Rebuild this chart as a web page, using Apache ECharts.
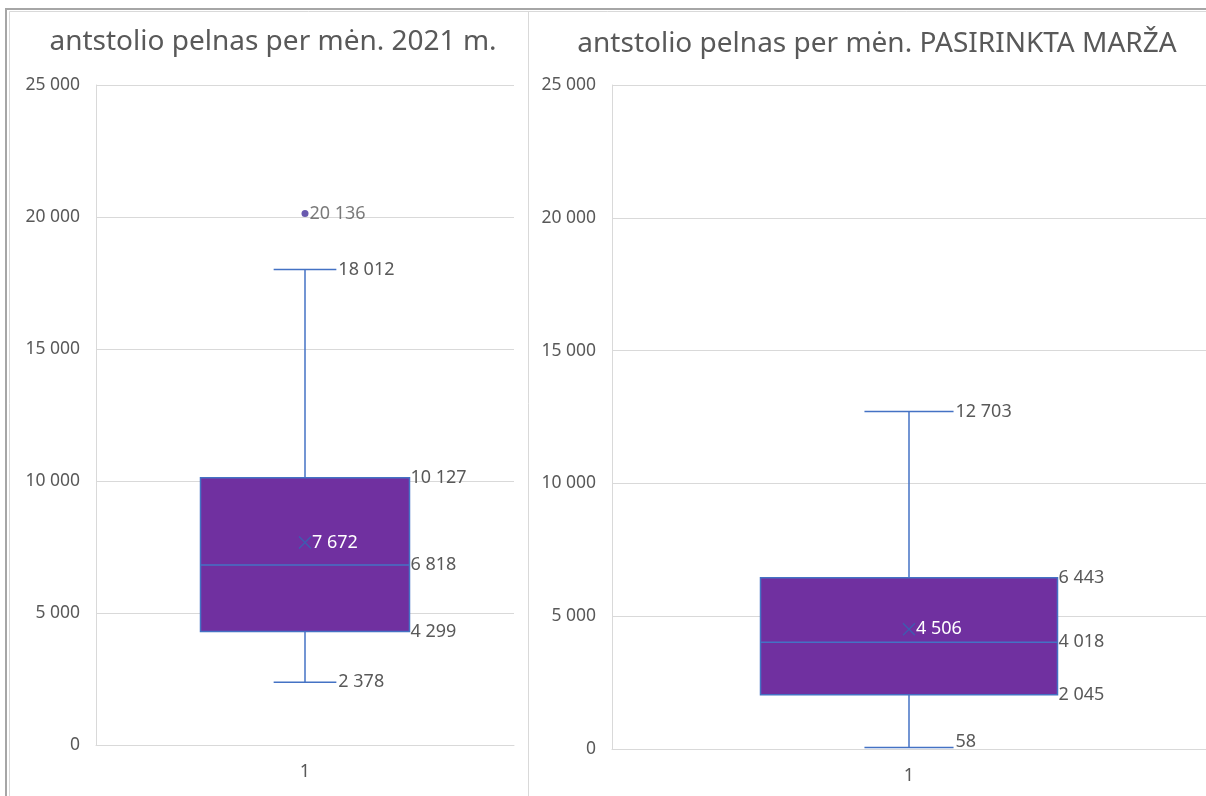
<!DOCTYPE html>
<html>
<head>
<meta charset="utf-8">
<script src="https://cdn.jsdelivr.net/npm/echarts@6/dist/echarts.min.js"></script>
<style>
html,body{margin:0;padding:0;background:#fff;}
#c{width:1206px;height:796px;}
</style>
</head>
<body>
<div id="c"></div>
<script>
// ---- data ----
const categories = ['1'];
const titles = ['antstolio pelnas per mėn. 2021 m.', 'antstolio pelnas per mėn. PASIRINKTA MARŽA'];
// [min, Q1, median, Q3, max]
const leftStats = [2378, 4299, 6818, 10127, 18012];
const leftMean = 7672;
const leftOutliers = [20136];
const rightStats = [58, 2045, 4018, 6443, 12703];
const rightMean = 4506;
const rightOutliers = [];
const yMin = 0, yMax = 25000, yInterval = 5000;

// ---- helpers ----
const TXT = '#595959';
const BLUE = '#4472C4';
const FILL = '#7030A0';
const FONT = '"Noto Sans", "DejaVu Sans", sans-serif';
function fmt(v){ return String(Math.round(v)).replace(/\B(?=(\d{3})+(?!\d))/g, ' '); }

function renderBox(params, api){
  const cat = api.value(0);
  const vals = [api.value(1), api.value(2), api.value(3), api.value(4), api.value(5)];
  const mean = api.value(6);
  const band = api.size([1, 0])[0];
  const cx = api.coord([cat, 0])[0];
  const y = vals.map(v => api.coord([cat, v])[1]);
  const ym = api.coord([cat, mean])[1];
  const bw = band * 0.5, cw = band * 0.15;
  const ls = {stroke: BLUE, lineWidth: 1.5};
  const lab = (x, yy, t, col) => ({type:'text', x:x, y:yy, silent:true,
    style:{text:t, fill:col||TXT, font:'18px ' + FONT, align:'left', verticalAlign:'middle'}});
  const children = [
    {type:'line', shape:{x1:cx, y1:y[4], x2:cx, y2:y[3]}, style:ls},
    {type:'line', shape:{x1:cx, y1:y[1], x2:cx, y2:y[0]}, style:ls},
    {type:'line', shape:{x1:cx - cw/2, y1:y[4], x2:cx + cw/2, y2:y[4]}, style:ls},
    {type:'line', shape:{x1:cx - cw/2, y1:y[0], x2:cx + cw/2, y2:y[0]}, style:ls},
    {type:'rect', shape:{x:cx - bw/2, y:y[3], width:bw, height:y[1] - y[3]}, style:{fill:FILL, stroke:BLUE, lineWidth:1.5}},
    {type:'line', shape:{x1:cx - bw/2, y1:y[2], x2:cx + bw/2, y2:y[2]}, style:ls},
    {type:'line', shape:{x1:cx - 6, y1:ym - 6, x2:cx + 6, y2:ym + 6}, style:{stroke:'#3f5bb0', lineWidth:1.5}},
    {type:'line', shape:{x1:cx - 6, y1:ym + 6, x2:cx + 6, y2:ym - 6}, style:{stroke:'#3f5bb0', lineWidth:1.5}},
    lab(cx + cw/2 + 2, y[4], fmt(vals[4])),
    lab(cx + cw/2 + 2, Math.min(y[0], api.coord([cat, 0])[1] - 7), fmt(vals[0])),
    lab(cx + bw/2 + 1, y[3], fmt(vals[3])),
    lab(cx + bw/2 + 1, y[2], fmt(vals[2])),
    lab(cx + bw/2 + 1, y[1], fmt(vals[1])),
    lab(cx + 7, ym, fmt(mean), '#ffffff')
  ];
  return {type:'group', children: children};
}

function yAxis(idx){
  return {type:'value', gridIndex:idx, min:yMin, max:yMax, interval:yInterval,
    axisLine:{show:true, lineStyle:{color:'#d9d9d9'}}, axisTick:{show:false},
    splitLine:{lineStyle:{color:'#d9d9d9', width:1}},
    axisLabel:{color:TXT, fontFamily:FONT, fontSize:17.5, margin:16, formatter: v => fmt(v)}};
}
function xAxis(idx){
  return {type:'category', gridIndex:idx, data:categories, boundaryGap:true,
    axisLine:{show:true, lineStyle:{color:'#d9d9d9'}}, axisTick:{show:false},
    axisLabel:{color:TXT, fontFamily:FONT, fontSize:18, margin:18}};
}
function outlierSeries(idx, arr){
  return {type:'scatter', xAxisIndex:idx, yAxisIndex:idx, symbolSize:7,
    itemStyle:{color:'#43309a'},
    label:{show:true, position:'right', distance:1, color:TXT, fontFamily:FONT, fontSize:18, formatter: p => fmt(p.value[1])},
    data: arr.map(v => [0, v])};
}

const chart = echarts.init(document.getElementById('c'), null, {renderer:'canvas'});
chart.setOption({
  animation:false,
  backgroundColor:'#ffffff',
  grid:[
    {left:96, right:1206 - 514, top:85, bottom:796 - 745},
    {left:612, right:0, top:85, bottom:796 - 749}
  ],
  xAxis:[xAxis(0), xAxis(1)],
  yAxis:[yAxis(0), yAxis(1)],
  graphic:[
    {type:'line', shape:{x1:6, y1:9, x2:1206, y2:9}, style:{stroke:'#a6a6a6', lineWidth:2}, silent:true},
    {type:'line', shape:{x1:6, y1:8, x2:6, y2:796}, style:{stroke:'#a6a6a6', lineWidth:2}, silent:true},
    {type:'line', shape:{x1:9.5, y1:11.5, x2:1206, y2:11.5}, style:{stroke:'#d9d9d9', lineWidth:1}, silent:true},
    {type:'line', shape:{x1:9.5, y1:11.5, x2:9.5, y2:796}, style:{stroke:'#d9d9d9', lineWidth:1}, silent:true},
    {type:'line', shape:{x1:528.5, y1:11.5, x2:528.5, y2:796}, style:{stroke:'#d9d9d9', lineWidth:1}, silent:true},
    {type:'text', x:273, y:42, silent:true, style:{text:titles[0], fill:TXT, font:'28px ' + FONT, align:'center', verticalAlign:'middle'}},
    {type:'text', x:877, y:44, silent:true, style:{text:titles[1], fill:TXT, font:'28px ' + FONT, align:'center', verticalAlign:'middle'}}
  ],
  series:[
    {type:'custom', xAxisIndex:0, yAxisIndex:0, renderItem:renderBox,
      data:[[0].concat(leftStats, [leftMean])], encode:{x:0, y:[1,2,3,4,5,6]}},
    outlierSeries(0, leftOutliers),
    {type:'custom', xAxisIndex:1, yAxisIndex:1, renderItem:renderBox,
      data:[[0].concat(rightStats, [rightMean])], encode:{x:0, y:[1,2,3,4,5,6]}},
    outlierSeries(1, rightOutliers)
  ]
});
</script>
</body>
</html>
